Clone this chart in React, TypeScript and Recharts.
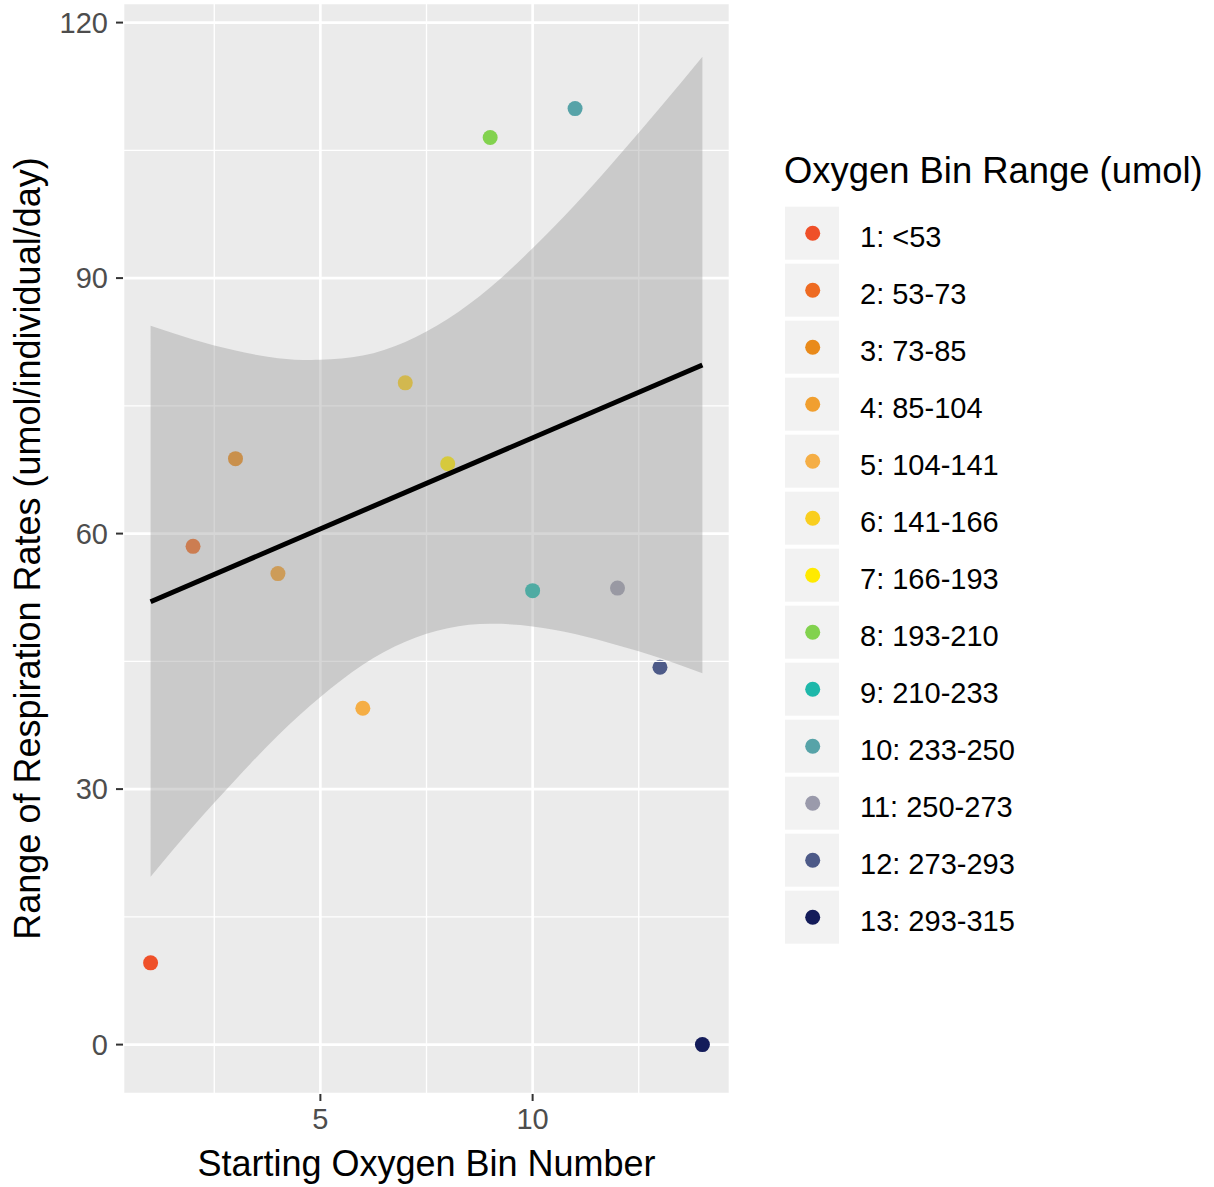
import {
  ComposedChart,
  Scatter,
  Area,
  Line,
  XAxis,
  YAxis,
  CartesianGrid,
  ReferenceLine,
  Cell,
} from "recharts";

// starting oxygen bin number vs range of respiration rates
const binNumber = [1, 2, 3, 4, 6, 7, 8, 9, 10, 11, 12, 13, 14];
const rateRange = [9.6, 58.5, 68.8, 55.3, 39.5, 77.7, 68.2, 106.5, 53.3, 109.9, 53.6, 44.3, 0];

const binLabels = [
  "1: <53",
  "2: 53-73",
  "3: 73-85",
  "4: 85-104",
  "5: 104-141",
  "6: 141-166",
  "7: 166-193",
  "8: 193-210",
  "9: 210-233",
  "10: 233-250",
  "11: 250-273",
  "12: 273-293",
  "13: 293-315",
];

const palette = [
  "#EF5029",
  "#EE6B22",
  "#E98A1A",
  "#F19F2F",
  "#F5AE45",
  "#F9CE1F",
  "#FFEA00",
  "#82D24E",
  "#1EB8AA",
  "#57A3A8",
  "#9A9AAB",
  "#4D5A88",
  "#141C5A",
];

// lm smooth: confidence band read at each bin, fit line at the ends
const smoothX = [1, 2, 3, 4, 5, 6, 7, 8, 9, 10, 11, 12, 13, 14];
const bandLower = [19.7, 25.6, 31.1, 36.3, 40.8, 44.6, 47.3, 48.9, 49.4, 49.1, 48.2, 46.9, 45.4, 43.6];
const bandUpper = [84.4, 82.8, 81.5, 80.6, 80.4, 80.9, 82.5, 85.2, 88.9, 93.5, 98.6, 104.2, 110.0, 116.0];
const fitEnds: Record<number, number> = { 1: 52.0, 14: 79.8 };

const xTicks = [5, 10];
const yTicks = [0, 30, 60, 90, 120];
const xMinor = [2.5, 7.5, 12.5];
const yMinor = [15, 45, 75, 105];

const smoothData = smoothX.map((x, i) => ({
  x,
  band: [bandLower[i], bandUpper[i]],
  fit: fitEnds[x] ?? null,
}));

const points = binNumber.map((x, i) => ({ x, y: rateRange[i], bin: binLabels[i] }));

const FONT = '"Liberation Sans", Arial, Helvetica, sans-serif';

function OxygenLegend() {
  return (
    <svg
      width={444}
      height={830}
      style={{ position: "absolute", left: 770, top: 140, fontFamily: FONT }}
    >
      <text x={14} y={43} fontSize={36.4} fill="#000">
        Oxygen Bin Range (umol)
      </text>
      {binLabels.map((label, i) => (
        <g key={label}>
          <rect x={15} y={66.7 + 57 * i} width={54} height={53} fill="#F2F2F2" />
          <circle cx={42.7} cy={93.2 + 57 * i} r={7.5} fill={palette[i]} />
          <text x={90} y={107 + 57 * i} fontSize={29} fill="#000">
            {label}
          </text>
        </g>
      ))}
    </svg>
  );
}

export default function App() {
  return (
    <div
      style={{
        position: "absolute",
        left: 0,
        top: 0,
        width: 1214,
        height: 1187,
        background: "#fff",
        fontFamily: FONT,
      }}
    >
      <ComposedChart
        width={1214}
        height={1187}
        data={smoothData}
        margin={{ top: 3, right: 484, bottom: 0, left: 0 }}
      >
        <CartesianGrid fill="#EBEBEB" stroke="#FFFFFF" strokeWidth={2.6} />
        {xMinor.map((v) => (
          <ReferenceLine key={`xm-${v}`} x={v} stroke="#FFFFFF" strokeWidth={1.3} />
        ))}
        {yMinor.map((v) => (
          <ReferenceLine key={`ym-${v}`} y={v} stroke="#FFFFFF" strokeWidth={1.3} />
        ))}
        <XAxis
          dataKey="x"
          type="number"
          domain={[0.35, 14.65]}
          ticks={xTicks}
          allowDataOverflow
          height={93}
          axisLine={false}
          tickSize={7}
          tickMargin={7}
          tickLine={{ stroke: "#333333", strokeWidth: 2 }}
          tick={{ fill: "#4D4D4D", fontSize: 29 }}
          label={{
            value: "Starting Oxygen Bin Number",
            position: "insideBottom",
            offset: 11,
            fill: "#000",
            fontSize: 36,
          }}
        />
        <YAxis
          type="number"
          domain={[-5.8, 122.3]}
          ticks={yTicks}
          allowDataOverflow
          width={123}
          axisLine={false}
          tickSize={7}
          tickMargin={8}
          tickLine={{ stroke: "#333333", strokeWidth: 2 }}
          tick={{ fill: "#4D4D4D", fontSize: 29 }}
          label={{
            value: "Range of Respiration Rates (umol/individual/day)",
            angle: -90,
            position: "insideLeft",
            offset: 27,
            fill: "#000",
            fontSize: 36,
            style: { textAnchor: "middle" },
          }}
        />
        <Scatter
          data={points}
          dataKey="y"
          isAnimationActive={false}
          zIndex={300}
          shape={(p: any) => <circle cx={p.cx} cy={p.cy} r={7.5} fill={p.fill} />}
        >
          {points.map((pt, i) => (
            <Cell key={pt.bin} fill={palette[i]} />
          ))}
        </Scatter>
        <Area
          dataKey="band"
          type="natural"
          fill="#999999"
          fillOpacity={0.4}
          stroke="none"
          isAnimationActive={false}
          zIndex={400}
        />
        <Line
          dataKey="fit"
          type="linear"
          stroke="#000000"
          strokeWidth={5}
          dot={false}
          connectNulls
          isAnimationActive={false}
          zIndex={500}
        />
      </ComposedChart>
      <OxygenLegend />
    </div>
  );
}
